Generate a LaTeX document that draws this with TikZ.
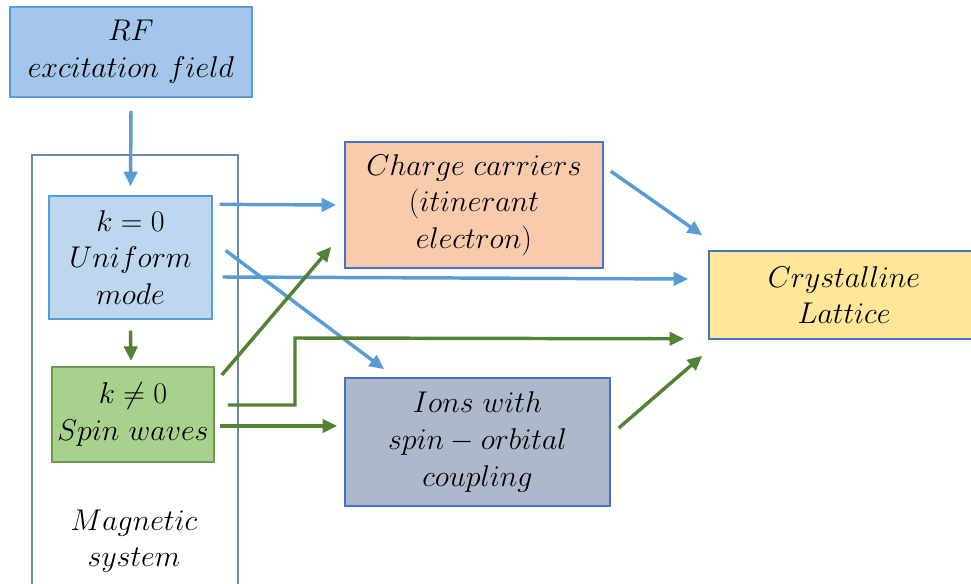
\RequirePackage{fix-cm}
\documentclass[tikz,border=0pt]{standalone}
\usetikzlibrary{arrows.meta}
\definecolor{rffill}{HTML}{A3C6EA}
\definecolor{kzfill}{HTML}{BDD7EE}
\definecolor{knfill}{HTML}{A9D18E}
\definecolor{chfill}{HTML}{F8CBAD}
\definecolor{iofill}{HTML}{ADB9CA}
\definecolor{lafill}{HTML}{FFE699}
\definecolor{edgeblue}{HTML}{4472C4}
\definecolor{lightedge}{HTML}{5B9BD5}
\definecolor{greenedge}{HTML}{6E9A50}
\definecolor{magedge}{HTML}{6D87A6}
\definecolor{arrblue}{HTML}{5B9BD5}
\definecolor{arrgreen}{HTML}{548235}
\begin{document}
\begin{tikzpicture}[x=0.75pt,y=-0.75pt,
    txt/.style={align=center, inner sep=0pt, font=\fontsize{22.5}{27.5}\selectfont},
    box/.style={txt, draw=edgeblue, line width=1.2pt},
    bluearr/.style={draw=arrblue, line width=2.6pt, -{Triangle[length=11pt,width=10pt]}},
    greenarr/.style={draw=arrgreen, line width=2.6pt, -{Triangle[length=11pt,width=10pt]}}]
    \useasboundingbox (0,0) rectangle (971,584);
    \clip (0,0) rectangle (971,584);
    % magnetic system frame
    \draw[magedge, line width=1.1pt] (32,600) -- (32,155) -- (238,155) -- (238,600);
    \node[txt] (mag) at (134,541) {$Magnetic$\\$system$};
    % boxes
    \node[box, draw=lightedge, fill=rffill, minimum width=181.5pt, minimum height=67.5pt] (rf) at (131,52) {$RF$\\$excitation\ field$};
    \node[box, draw=lightedge, fill=kzfill, minimum width=122pt, minimum height=92pt] (kz) at (130.5,257.5) {$k=0$\\$Uniform$\\$mode$};
    \node[box, draw=greenedge, fill=knfill, minimum width=121.5pt, minimum height=71.5pt] (kn) at (133,414.5) {$k\neq0$\\$Spin\ waves$};
    \node[box, fill=chfill, minimum width=193.5pt, minimum height=94.5pt] (ch) at (474,205) {$Charge\ carriers$\\$(itinerant$\\$electron)$};
    \node[box, fill=iofill, minimum width=198.75pt, minimum height=96pt] (io) at (477.5,442) {$Ions\ with$\\$spin-orbital$\\$coupling$};
    \node[box, fill=lafill, minimum width=202.5pt, minimum height=66pt] (la) at (844,295) {$Crystalline$\\$Lattice$};
    % blue arrows
    \draw[bluearr] ([shift={(0,13)}]rf.south) -- ([shift={(0,-9)}]kz.north);
    \draw[bluearr] ([shift={(7,9)}]kz.north east) -- ([shift={(-8,0)}]ch.west);
    \draw[bluearr] ([shift={(10,19.5)}]kz.east) -- ([shift={(-20,-16)}]la.west);
    \draw[bluearr] ([shift={(13,-7)}]kz.east) -- ([shift={(40,-8)}]io.north west);
    \draw[bluearr] ([shift={(7,30)}]ch.north east) -- ([shift={(-6,-15)}]la.north west);
    % green arrows
    \draw[greenarr] ([shift={(0,11)}]kz.south) -- ([shift={(-2,-5)}]kn.north);
    \draw[greenarr] ([shift={(7,9)}]kn.north east) -- ([shift={(-13,-22)}]ch.south west);
    \draw[greenarr] ([shift={(13,-9.5)}]kn.east) -| (295,338) -- ([shift={(-24,-1)}]la.south west);
    \draw[greenarr] ([shift={(5,11.5)}]kn.east) -- ([shift={(-7,-16)}]io.west);
    \draw[greenarr] ([shift={(8,-14)}]io.east) -- ([shift={(-6,16)}]la.south west);
\end{tikzpicture}
\end{document}
